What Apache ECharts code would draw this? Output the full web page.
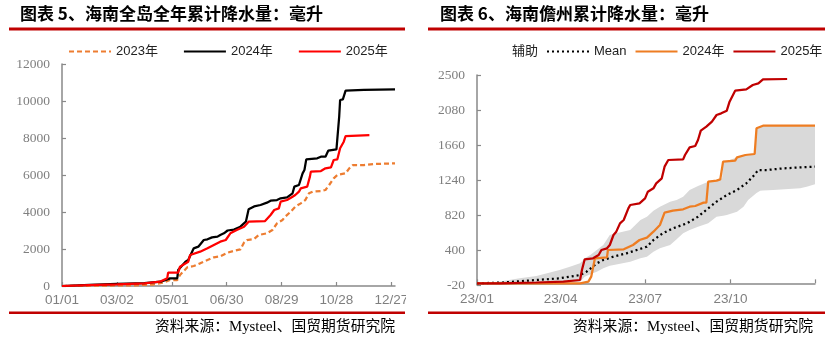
<!DOCTYPE html>
<html><head><meta charset="utf-8">
<script src="https://cdn.jsdelivr.net/npm/echarts@6.0.0/dist/echarts.min.js"></script>
<style>
html,body{margin:0;padding:0;background:#fff;width:829px;height:340px;overflow:hidden}
#c1{position:absolute;left:0;top:0;width:406px;height:340px}
#c2{position:absolute;left:415px;top:0;width:414px;height:340px}
</style></head>
<body><div id="c1"></div><div id="c2"></div>
<script>
// ---------- Chart 5: Hainan island cumulative rainfall (day index 0 = 01/01) ----------
const leftTitle = '图表 5、海南全岛全年累计降水量：毫升';
const rightTitle = '图表 6、海南儋州累计降水量：毫升';
const sourceText = '资料来源：Mysteel、国贸期货研究院';

const left2023Days = [0,40,80,100,112,118,126,129,137,144,151,159,166,173,181,188,195,199,202,210,215,224,230,235,241,244,250,255,261,266,270,274,283,288,292,297,301,310,314,318,330,341,364];
const left2023Vals = [0,20,40,80,200,324,324,595,1009,1081,1225,1405,1550,1600,1800,1900,1980,2350,2480,2540,2757,2847,3027,3387,3567,3747,4018,4288,4468,4648,5010,5099,5135,5189,5459,5820,6000,6090,6360,6540,6540,6594,6630];

const left2024Days = [0,30,60,90,108,118,126,127,135,138,144,149,155,159,164,170,173,177,181,188,195,201,204,210,217,224,228,235,239,246,252,254,259,263,265,267,279,283,288,291,300,303,304,307,310,330,364];
const left2024Vals = [0,60,110,150,230,414,414,865,1315,1405,2036,2126,2486,2522,2630,2667,2757,2847,3000,3050,3207,3477,4143,4300,4378,4504,4612,4648,4738,4792,5010,5369,5459,6090,6270,6847,6901,6991,6991,7313,7384,9153,10054,10090,10558,10595,10630];

const left2025Days = [0,30,60,90,107,115,116,127,129,138,140,151,159,173,179,184,191,199,204,222,228,232,237,239,246,252,255,259,261,268,271,272,283,288,294,297,301,304,308,310,336];
const left2025Vals = [0,50,90,140,232,414,720,720,1045,1315,1675,1855,2036,2396,2486,2847,3027,3207,3477,3513,3838,4108,4198,4558,4648,4828,4919,5099,5279,5369,5910,6180,6216,6360,6414,6811,6847,7442,7800,8108,8162];

const leftYTicks = {min:0, max:12000, interval:2000};

// ---------- Chart 6: Danzhou cumulative rainfall ----------
const right2025Days = [0,25,64,93,111,113,116,125,131,134,140,143,147,150,154,158,163,165,175,181,184,190,193,199,202,206,222,224,229,235,238,241,247,253,258,263,269,272,278,290,297,303,308,334];
const right2025Vals = [0,0,10,20,40,160,288,300,340,400,420,460,580,620,720,760,900,940,960,1020,1100,1140,1200,1260,1400,1480,1488,1540,1632,1648,1720,1832,1880,1940,2020,2040,2072,2180,2312,2328,2380,2400,2448,2452];

const right2024Days = [0,111,120,123,127,140,141,158,168,175,183,190,197,202,211,222,229,235,237,244,247,249,258,262,265,278,280,289,299,301,308,364];
const right2024Vals = [0,0,20,80,300,312,400,408,460,520,548,620,700,848,872,888,920,928,952,968,968,1220,1232,1248,1460,1472,1512,1540,1552,1860,1892,1892];

const meanDays = [0,28,64,89,111,118,129,136,147,161,172,183,190,200,211,226,238,249,258,269,280,290,297,303,312,330,364];
const meanVals = [0,10,40,60,100,140,240,280,320,360,400,440,520,600,660,720,800,900,980,1060,1120,1200,1280,1360,1360,1380,1400];

const bandDays = [0,23,46,64,89,100,111,116,122,129,136,143,150,165,176,183,190,197,208,215,222,229,238,249,258,264,265,269,280,287,292,299,301,305,308,319,348,355,364];
const bandLow  = [0,0,0,0,0,10,20,80,110,140,180,210,225,260,300,320,380,420,460,530,600,640,680,720,800,810,812,820,860,920,1000,1080,1085,1110,1115,1120,1140,1160,1190];
const bandHigh = [0,20,60,88,160,200,240,300,340,400,460,580,600,640,760,800,870,920,980,1000,1040,1120,1168,1220,1232,1260,1460,1465,1512,1530,1535,1552,1860,1875,1892,1892,1892,1892,1892];

const rightYTicks = {min:-20, max:2500, interval:420};
const rightLabelDays = [0,90,181,273];   // 23/01, 23/04, 23/07, 23/10
const rightTickDays = [0,90,181,273,364];

// categories: every day of 2023
const days = [];
for (let i = 0; i < 365; i++) {
  const d = new Date(Date.UTC(2023, 0, 1 + i));
  days.push(d.toISOString().slice(0, 10));
}
const pairs = (xs, ys) => xs.map((x, i) => [x, ys[i]]);

const axisGray = '#898989';
const labelGray = '#7f7f7f';
const serif = "'Liberation Serif','Noto Sans CJK SC',serif";
const sans = "'Liberation Sans','Noto Sans CJK SC',sans-serif";

function frame(title, titleX, lineX0, lineX1, srcX) {
  return [
    {type:'text', left:titleX, top:5, style:{text:title, font:"bold 17px 'Noto Sans CJK SC'", fill:'#000'}},
    {type:'rect', shape:{x:lineX0, y:27.5, width:lineX1-lineX0, height:3}, style:{fill:'#C00000'}},
    {type:'rect', shape:{x:lineX0, y:311.5, width:lineX1-lineX0, height:2.5}, style:{fill:'#C00000'}},
    {type:'text', left:srcX, top:320, style:{text:sourceText, font:"14.8px " + serif, fill:'#000'}}
  ];
}

function yAxis(t) {
  return {type:'value', min:t.min, max:t.max, interval:t.interval,
    axisLine:{show:true, lineStyle:{color:axisGray, width:1.5}},
    axisTick:{show:true, inside:true, length:4, lineStyle:{color:axisGray, width:1.2}},
    splitLine:{show:false},
    axisLabel:{color:labelGray, fontFamily:serif, fontSize:13.5, margin:12, formatter:v => String(v)}};
}

function legend(left, gap, data) {
  return {left:left, top:45, padding:0, width:380, itemWidth:42, itemHeight:10, itemGap:gap,
    itemStyle:{opacity:0},
    textStyle:{fontFamily:sans, fontSize:13, color:'#222'},
    data:data};
}

// ---- left chart ----
const c1 = echarts.init(document.getElementById('c1'), null, {renderer:'canvas'});
c1.setOption({
  animation:false,
  graphic: frame(leftTitle, 20, 9, 405, 155),
  legend: legend(68, 25, ['2023年','2024年','2025年']),
  grid:{left:62, right:11, top:64, bottom:54, outerBoundsMode:'none', containLabel:false},
  xAxis:{type:'category', data:days, boundaryGap:false,
    axisLine:{lineStyle:{color:axisGray, width:1.5}},
    axisTick:{show:true, inside:true, length:4, interval:59, lineStyle:{color:axisGray, width:1.2}},
    axisLabel:{interval:59, color:labelGray, fontFamily:sans, fontSize:13.5, margin:8,
      formatter:v => v.slice(5,7) + '/' + v.slice(8,10)}},
  yAxis: yAxis(leftYTicks),
  series:[
    {name:'2023年', type:'line', symbol:'none', data:pairs(left2023Days,left2023Vals),
      lineStyle:{color:'#ED7D31', width:2.25, type:[5,3]}, itemStyle:{color:'#ED7D31'}},
    {name:'2024年', type:'line', symbol:'none', data:pairs(left2024Days,left2024Vals),
      lineStyle:{color:'#000000', width:2.25}, itemStyle:{color:'#000000'}},
    {name:'2025年', type:'line', symbol:'none', data:pairs(left2025Days,left2025Vals),
      lineStyle:{color:'#FF0000', width:2.25}, itemStyle:{color:'#FF0000'}}
  ]
});

// ---- right chart ----
const c2 = echarts.init(document.getElementById('c2'), null, {renderer:'canvas'});
c2.setOption({
  animation:false,
  graphic: frame(rightTitle, 25, 13, 410, 158),
  legend: legend(50, 8, [{name:'辅助', itemStyle:{opacity:0}, lineStyle:{opacity:0}},'Mean','2024年','2025年']),
  grid:{left:62, right:14, top:75, bottom:55, outerBoundsMode:'none', containLabel:false},
  xAxis:{type:'category', data:days, boundaryGap:false,
    axisLine:{lineStyle:{color:axisGray, width:1.5}},
    axisTick:{show:true, inside:true, length:4, lineStyle:{color:axisGray, width:1.2},
      interval:(i) => rightTickDays.includes(i)},
    axisLabel:{color:labelGray, fontFamily:sans, fontSize:13.5, margin:8,
      interval:(i) => rightLabelDays.includes(i),
      formatter:v => v.slice(2,4) + '/' + v.slice(5,7)}},
  yAxis: yAxis(rightYTicks),
  series:[
    {name:'辅助', type:'line', stack:'band', symbol:'none', data:pairs(bandDays,bandLow),
      lineStyle:{opacity:0, width:0}, itemStyle:{color:'rgba(0,0,0,0)'}},
    {name:'区间', type:'line', stack:'band', symbol:'none',
      data:bandDays.map((d,i)=>[d, bandHigh[i]-bandLow[i]]),
      lineStyle:{opacity:0, width:0}, areaStyle:{color:'#D9D9D9', opacity:1}, itemStyle:{color:'#D9D9D9'}},
    {name:'Mean', type:'line', symbol:'none', data:pairs(meanDays,meanVals),
      lineStyle:{color:'#000000', width:2.25, type:[2,3]}, itemStyle:{color:'#000000'}},
    {name:'2024年', type:'line', symbol:'none', data:pairs(right2024Days,right2024Vals),
      lineStyle:{color:'#EE7D22', width:2.25}, itemStyle:{color:'#EE7D22'}},
    {name:'2025年', type:'line', symbol:'none', data:pairs(right2025Days,right2025Vals),
      lineStyle:{color:'#C00000', width:2.25}, itemStyle:{color:'#C00000'}}
  ]
});
</script></body></html>
